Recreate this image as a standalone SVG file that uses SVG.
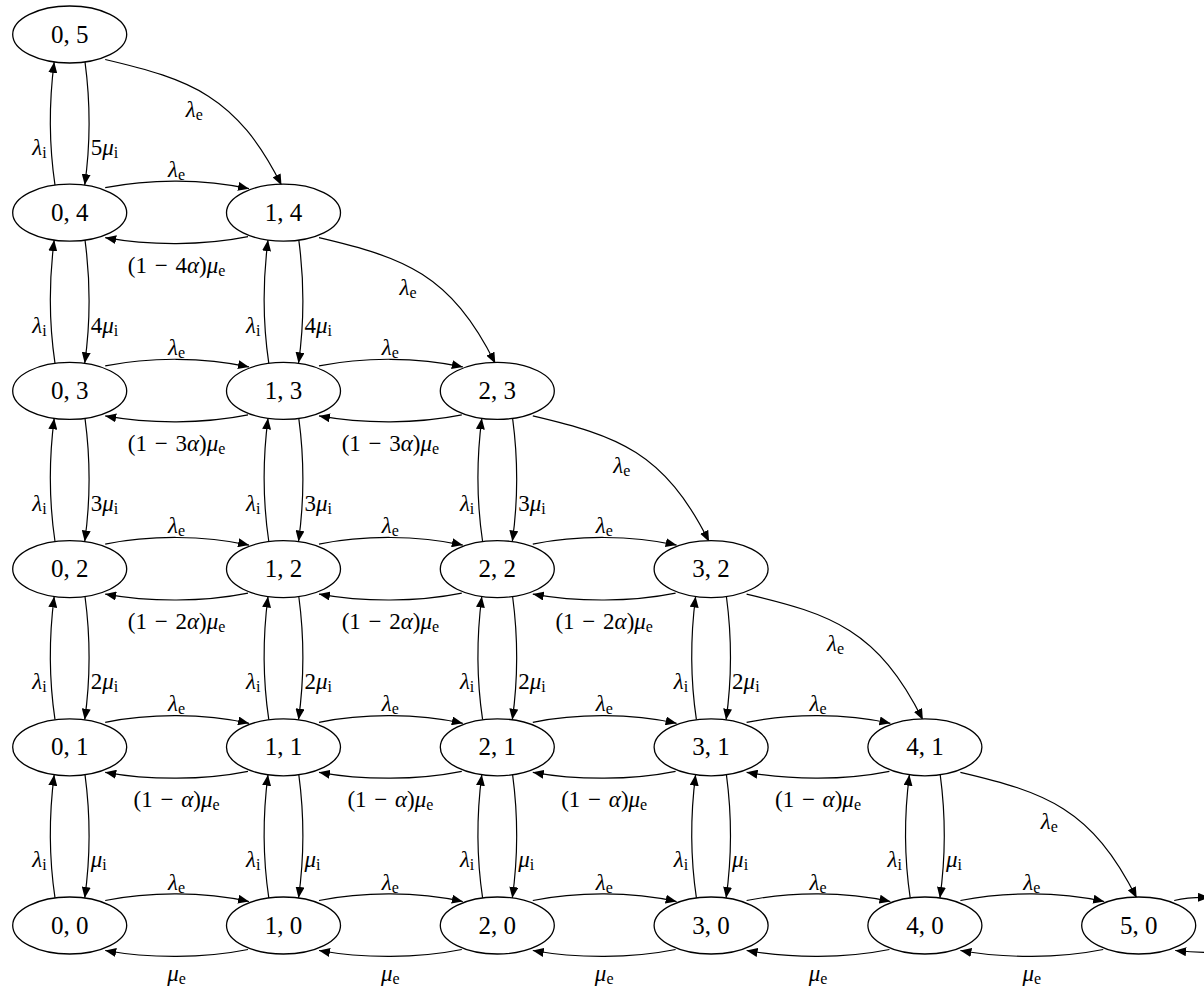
<svg xmlns="http://www.w3.org/2000/svg" width="1204" height="988" viewBox="0 0 1204 988">
<style>
.n ellipse{fill:#fff;stroke:#000;stroke-width:1.3}
.n text{font-family:"Liberation Serif",serif;font-size:25px;text-anchor:middle;fill:#000}
#edges path{fill:none;stroke:#000;stroke-width:1.2;marker-end:url(#ah)}
.l{font-family:"Liberation Serif",serif;font-size:23px;fill:#000;word-spacing:2px}
.m{text-anchor:middle}
.r{text-anchor:end}
.g{font-style:italic}
.s{font-size:16px}
</style>
<defs>
<marker id="ah" viewBox="0 0 11 9" refX="11" refY="4.5" markerWidth="11" markerHeight="9" markerUnits="userSpaceOnUse" orient="auto">
<path d="M0,0 L11,4.5 L0,9 z" fill="#000"/>
</marker>
</defs>
<rect width="1204" height="988" fill="#fff"/>
<g id="edges">
<!-- vertical column 0 -->
<path d="M55,897.9 C48.7,855.5 48.7,817.3 54.2,774.7"/>
<path d="M85,774.7 C90.7,817.3 90.7,855.5 84.7,897.9"/>
<path d="M55,719.7 C48.7,677.3 48.7,639.1 54.2,596.5"/>
<path d="M85,596.5 C90.7,639.1 90.7,677.3 84.7,719.7"/>
<path d="M55,541.5 C48.7,499.1 48.7,460.9 54.2,418.3"/>
<path d="M85,418.3 C90.7,460.9 90.7,499.1 84.7,541.5"/>
<path d="M55,363.3 C48.7,320.9 48.7,282.7 54.2,240.1"/>
<path d="M85,240.1 C90.7,282.7 90.7,320.9 84.7,363.3"/>
<path d="M55,185.1 C48.7,142.7 48.7,104.5 54.2,61.9"/>
<path d="M85,61.9 C90.7,104.5 90.7,142.7 84.7,185.1"/>
<!-- vertical column 1 -->
<path d="M268.8,897.9 C262.5,855.5 262.5,817.3 268,774.7"/>
<path d="M298.8,774.7 C304.5,817.3 304.5,855.5 298.5,897.9"/>
<path d="M268.8,719.7 C262.5,677.3 262.5,639.1 268,596.5"/>
<path d="M298.8,596.5 C304.5,639.1 304.5,677.3 298.5,719.7"/>
<path d="M268.8,541.5 C262.5,499.1 262.5,460.9 268,418.3"/>
<path d="M298.8,418.3 C304.5,460.9 304.5,499.1 298.5,541.5"/>
<path d="M268.8,363.3 C262.5,320.9 262.5,282.7 268,240.1"/>
<path d="M298.8,240.1 C304.5,282.7 304.5,320.9 298.5,363.3"/>
<!-- vertical column 2 -->
<path d="M482.6,897.9 C476.3,855.5 476.3,817.3 481.8,774.7"/>
<path d="M512.6,774.7 C518.3,817.3 518.3,855.5 512.3,897.9"/>
<path d="M482.6,719.7 C476.3,677.3 476.3,639.1 481.8,596.5"/>
<path d="M512.6,596.5 C518.3,639.1 518.3,677.3 512.3,719.7"/>
<path d="M482.6,541.5 C476.3,499.1 476.3,460.9 481.8,418.3"/>
<path d="M512.6,418.3 C518.3,460.9 518.3,499.1 512.3,541.5"/>
<!-- vertical column 3 -->
<path d="M696.4,897.9 C690.1,855.5 690.1,817.3 695.6,774.7"/>
<path d="M726.4,774.7 C732.1,817.3 732.1,855.5 726.1,897.9"/>
<path d="M696.4,719.7 C690.1,677.3 690.1,639.1 695.6,596.5"/>
<path d="M726.4,596.5 C732.1,639.1 732.1,677.3 726.1,719.7"/>
<!-- vertical column 4 -->
<path d="M910.2,897.9 C903.9,855.5 903.9,817.3 909.4,774.7"/>
<path d="M940.2,774.7 C945.9,817.3 945.9,855.5 939.9,897.9"/>
<!-- horizontal row 0 -->
<path d="M105.2,900.5 C149.7,891.5 203.5,891.5 249,901.5"/>
<path d="M248,949.5 C203.5,958.5 149.7,958.5 105.2,950.5"/>
<path d="M319,900.5 C363.5,891.5 417.3,891.5 462.8,901.5"/>
<path d="M461.8,949.5 C417.3,958.5 363.5,958.5 319,950.5"/>
<path d="M532.8,900.5 C577.3,891.5 631.1,891.5 676.6,901.5"/>
<path d="M675.6,949.5 C631.1,958.5 577.3,958.5 532.8,950.5"/>
<path d="M746.6,900.5 C791.1,891.5 844.9,891.5 890.4,901.5"/>
<path d="M889.4,949.5 C844.9,958.5 791.1,958.5 746.6,950.5"/>
<path d="M960.4,900.5 C1004.9,891.5 1058.7,891.5 1104.2,901.5"/>
<path d="M1103.2,949.5 C1058.7,958.5 1004.9,958.5 960.4,950.5"/>
<!-- row 1 -->
<path d="M105.2,722.3 C149.7,713.3 203.5,713.3 249,723.3"/>
<path d="M248,771.3 C203.5,780.3 149.7,780.3 105.2,772.3"/>
<path d="M319,722.3 C363.5,713.3 417.3,713.3 462.8,723.3"/>
<path d="M461.8,771.3 C417.3,780.3 363.5,780.3 319,772.3"/>
<path d="M532.8,722.3 C577.3,713.3 631.1,713.3 676.6,723.3"/>
<path d="M675.6,771.3 C631.1,780.3 577.3,780.3 532.8,772.3"/>
<path d="M746.6,722.3 C791.1,713.3 844.9,713.3 890.4,723.3"/>
<path d="M889.4,771.3 C844.9,780.3 791.1,780.3 746.6,772.3"/>
<!-- row 2 -->
<path d="M105.2,544.1 C149.7,535.1 203.5,535.1 249,545.1"/>
<path d="M248,593.1 C203.5,602.1 149.7,602.1 105.2,594.1"/>
<path d="M319,544.1 C363.5,535.1 417.3,535.1 462.8,545.1"/>
<path d="M461.8,593.1 C417.3,602.1 363.5,602.1 319,594.1"/>
<path d="M532.8,544.1 C577.3,535.1 631.1,535.1 676.6,545.1"/>
<path d="M675.6,593.1 C631.1,602.1 577.3,602.1 532.8,594.1"/>
<!-- row 3 -->
<path d="M105.2,365.9 C149.7,356.9 203.5,356.9 249,366.9"/>
<path d="M248,414.9 C203.5,423.9 149.7,423.9 105.2,415.9"/>
<path d="M319,365.9 C363.5,356.9 417.3,356.9 462.8,366.9"/>
<path d="M461.8,414.9 C417.3,423.9 363.5,423.9 319,415.9"/>
<!-- row 4 -->
<path d="M105.2,187.7 C149.7,178.7 203.5,178.7 249,188.7"/>
<path d="M248,236.7 C203.5,245.7 149.7,245.7 105.2,237.7"/>
<!-- diagonals -->
<path d="M105.2,59.5 C190.2,79.5 236.5,95.3 281.5,185.3"/>
<path d="M319,237.7 C404,257.7 450.3,273.5 495.3,363.5"/>
<path d="M532.8,415.9 C617.8,435.9 664.1,451.7 709.1,541.7"/>
<path d="M746.6,594.1 C831.6,614.1 877.9,629.9 922.9,719.9"/>
<path d="M960.4,772.3 C1045.4,792.3 1091.7,808.1 1136.7,898.1"/>
<!-- edges leaving the picture at 5,0 -->
<path d="M1174.2,900.5 C1186,897.8 1197,897.3 1209,897.5"/>
<path d="M1215,952 C1200,953 1190,952.2 1175.2,950.5"/>
</g>
<g id="labels">
<!-- vertical labels -->
<text class="l r" x="46.7" y="867.4"><tspan class="g">λ</tspan><tspan class="s" dy="3">i</tspan></text>
<text class="l" x="90.7" y="867.4"><tspan class="g">μ</tspan><tspan class="s" dy="3">i</tspan></text>
<text class="l r" x="46.7" y="689.2"><tspan class="g">λ</tspan><tspan class="s" dy="3">i</tspan></text>
<text class="l" x="90.7" y="689.2">2<tspan class="g">μ</tspan><tspan class="s" dy="3">i</tspan></text>
<text class="l r" x="46.7" y="511"><tspan class="g">λ</tspan><tspan class="s" dy="3">i</tspan></text>
<text class="l" x="90.7" y="511">3<tspan class="g">μ</tspan><tspan class="s" dy="3">i</tspan></text>
<text class="l r" x="46.7" y="332.8"><tspan class="g">λ</tspan><tspan class="s" dy="3">i</tspan></text>
<text class="l" x="90.7" y="332.8">4<tspan class="g">μ</tspan><tspan class="s" dy="3">i</tspan></text>
<text class="l r" x="46.7" y="154.6"><tspan class="g">λ</tspan><tspan class="s" dy="3">i</tspan></text>
<text class="l" x="90.7" y="154.6">5<tspan class="g">μ</tspan><tspan class="s" dy="3">i</tspan></text>

<text class="l r" x="260.5" y="867.4"><tspan class="g">λ</tspan><tspan class="s" dy="3">i</tspan></text>
<text class="l" x="304.5" y="867.4"><tspan class="g">μ</tspan><tspan class="s" dy="3">i</tspan></text>
<text class="l r" x="260.5" y="689.2"><tspan class="g">λ</tspan><tspan class="s" dy="3">i</tspan></text>
<text class="l" x="304.5" y="689.2">2<tspan class="g">μ</tspan><tspan class="s" dy="3">i</tspan></text>
<text class="l r" x="260.5" y="511"><tspan class="g">λ</tspan><tspan class="s" dy="3">i</tspan></text>
<text class="l" x="304.5" y="511">3<tspan class="g">μ</tspan><tspan class="s" dy="3">i</tspan></text>
<text class="l r" x="260.5" y="332.8"><tspan class="g">λ</tspan><tspan class="s" dy="3">i</tspan></text>
<text class="l" x="304.5" y="332.8">4<tspan class="g">μ</tspan><tspan class="s" dy="3">i</tspan></text>

<text class="l r" x="474.3" y="867.4"><tspan class="g">λ</tspan><tspan class="s" dy="3">i</tspan></text>
<text class="l" x="518.3" y="867.4"><tspan class="g">μ</tspan><tspan class="s" dy="3">i</tspan></text>
<text class="l r" x="474.3" y="689.2"><tspan class="g">λ</tspan><tspan class="s" dy="3">i</tspan></text>
<text class="l" x="518.3" y="689.2">2<tspan class="g">μ</tspan><tspan class="s" dy="3">i</tspan></text>
<text class="l r" x="474.3" y="511"><tspan class="g">λ</tspan><tspan class="s" dy="3">i</tspan></text>
<text class="l" x="518.3" y="511">3<tspan class="g">μ</tspan><tspan class="s" dy="3">i</tspan></text>

<text class="l r" x="688.1" y="867.4"><tspan class="g">λ</tspan><tspan class="s" dy="3">i</tspan></text>
<text class="l" x="732.1" y="867.4"><tspan class="g">μ</tspan><tspan class="s" dy="3">i</tspan></text>
<text class="l r" x="688.1" y="689.2"><tspan class="g">λ</tspan><tspan class="s" dy="3">i</tspan></text>
<text class="l" x="732.1" y="689.2">2<tspan class="g">μ</tspan><tspan class="s" dy="3">i</tspan></text>

<text class="l r" x="901.9" y="867.4"><tspan class="g">λ</tspan><tspan class="s" dy="3">i</tspan></text>
<text class="l" x="945.9" y="867.4"><tspan class="g">μ</tspan><tspan class="s" dy="3">i</tspan></text>

<!-- horizontal labels row 0 -->
<text class="l m" x="176.6" y="889.5"><tspan class="g">λ</tspan><tspan class="s" dy="3">e</tspan></text>
<text class="l m" x="176.6" y="980.5"><tspan class="g">μ</tspan><tspan class="s" dy="3">e</tspan></text>
<text class="l m" x="390.4" y="889.5"><tspan class="g">λ</tspan><tspan class="s" dy="3">e</tspan></text>
<text class="l m" x="390.4" y="980.5"><tspan class="g">μ</tspan><tspan class="s" dy="3">e</tspan></text>
<text class="l m" x="604.2" y="889.5"><tspan class="g">λ</tspan><tspan class="s" dy="3">e</tspan></text>
<text class="l m" x="604.2" y="980.5"><tspan class="g">μ</tspan><tspan class="s" dy="3">e</tspan></text>
<text class="l m" x="818" y="889.5"><tspan class="g">λ</tspan><tspan class="s" dy="3">e</tspan></text>
<text class="l m" x="818" y="980.5"><tspan class="g">μ</tspan><tspan class="s" dy="3">e</tspan></text>
<text class="l m" x="1031.8" y="889.5"><tspan class="g">λ</tspan><tspan class="s" dy="3">e</tspan></text>
<text class="l m" x="1031.8" y="980.5"><tspan class="g">μ</tspan><tspan class="s" dy="3">e</tspan></text>
<!-- row 1 -->
<text class="l m" x="176.6" y="711.3"><tspan class="g">λ</tspan><tspan class="s" dy="3">e</tspan></text>
<text class="l m" x="176.6" y="807.3">(1 − <tspan class="g">α</tspan>)<tspan class="g">μ</tspan><tspan class="s" dy="3">e</tspan></text>
<text class="l m" x="390.4" y="711.3"><tspan class="g">λ</tspan><tspan class="s" dy="3">e</tspan></text>
<text class="l m" x="390.4" y="807.3">(1 − <tspan class="g">α</tspan>)<tspan class="g">μ</tspan><tspan class="s" dy="3">e</tspan></text>
<text class="l m" x="604.2" y="711.3"><tspan class="g">λ</tspan><tspan class="s" dy="3">e</tspan></text>
<text class="l m" x="604.2" y="807.3">(1 − <tspan class="g">α</tspan>)<tspan class="g">μ</tspan><tspan class="s" dy="3">e</tspan></text>
<text class="l m" x="818" y="711.3"><tspan class="g">λ</tspan><tspan class="s" dy="3">e</tspan></text>
<text class="l m" x="818" y="807.3">(1 − <tspan class="g">α</tspan>)<tspan class="g">μ</tspan><tspan class="s" dy="3">e</tspan></text>
<!-- row 2 -->
<text class="l m" x="176.6" y="533.1"><tspan class="g">λ</tspan><tspan class="s" dy="3">e</tspan></text>
<text class="l m" x="176.6" y="629.1">(1 − 2<tspan class="g">α</tspan>)<tspan class="g">μ</tspan><tspan class="s" dy="3">e</tspan></text>
<text class="l m" x="390.4" y="533.1"><tspan class="g">λ</tspan><tspan class="s" dy="3">e</tspan></text>
<text class="l m" x="390.4" y="629.1">(1 − 2<tspan class="g">α</tspan>)<tspan class="g">μ</tspan><tspan class="s" dy="3">e</tspan></text>
<text class="l m" x="604.2" y="533.1"><tspan class="g">λ</tspan><tspan class="s" dy="3">e</tspan></text>
<text class="l m" x="604.2" y="629.1">(1 − 2<tspan class="g">α</tspan>)<tspan class="g">μ</tspan><tspan class="s" dy="3">e</tspan></text>
<!-- row 3 -->
<text class="l m" x="176.6" y="354.9"><tspan class="g">λ</tspan><tspan class="s" dy="3">e</tspan></text>
<text class="l m" x="176.6" y="450.9">(1 − 3<tspan class="g">α</tspan>)<tspan class="g">μ</tspan><tspan class="s" dy="3">e</tspan></text>
<text class="l m" x="390.4" y="354.9"><tspan class="g">λ</tspan><tspan class="s" dy="3">e</tspan></text>
<text class="l m" x="390.4" y="450.9">(1 − 3<tspan class="g">α</tspan>)<tspan class="g">μ</tspan><tspan class="s" dy="3">e</tspan></text>
<!-- row 4 -->
<text class="l m" x="176.6" y="176.7"><tspan class="g">λ</tspan><tspan class="s" dy="3">e</tspan></text>
<text class="l m" x="176.6" y="272.7">(1 − 4<tspan class="g">α</tspan>)<tspan class="g">μ</tspan><tspan class="s" dy="3">e</tspan></text>
<!-- diagonal labels -->
<text class="l m" x="194.2" y="116.5"><tspan class="g">λ</tspan><tspan class="s" dy="3">e</tspan></text>
<text class="l m" x="408" y="294.7"><tspan class="g">λ</tspan><tspan class="s" dy="3">e</tspan></text>
<text class="l m" x="621.8" y="472.9"><tspan class="g">λ</tspan><tspan class="s" dy="3">e</tspan></text>
<text class="l m" x="835.6" y="651.1"><tspan class="g">λ</tspan><tspan class="s" dy="3">e</tspan></text>
<text class="l m" x="1049.4" y="829.3"><tspan class="g">λ</tspan><tspan class="s" dy="3">e</tspan></text>
</g>
<g id="n05" class="n"><ellipse cx="69.7" cy="34.5" rx="57" ry="28.5"/><text x="69.7" y="42.5">0, 5</text></g>
<g id="n04" class="n"><ellipse cx="69.7" cy="212.7" rx="57" ry="28.5"/><text x="69.7" y="220.7">0, 4</text></g>
<g id="n03" class="n"><ellipse cx="69.7" cy="390.9" rx="57" ry="28.5"/><text x="69.7" y="398.9">0, 3</text></g>
<g id="n02" class="n"><ellipse cx="69.7" cy="569.1" rx="57" ry="28.5"/><text x="69.7" y="577.1">0, 2</text></g>
<g id="n01" class="n"><ellipse cx="69.7" cy="747.3" rx="57" ry="28.5"/><text x="69.7" y="755.3">0, 1</text></g>
<g id="n00" class="n"><ellipse cx="69.7" cy="925.5" rx="57" ry="28.5"/><text x="69.7" y="933.5">0, 0</text></g>
<g id="n14" class="n"><ellipse cx="283.5" cy="212.7" rx="57" ry="28.5"/><text x="283.5" y="220.7">1, 4</text></g>
<g id="n13" class="n"><ellipse cx="283.5" cy="390.9" rx="57" ry="28.5"/><text x="283.5" y="398.9">1, 3</text></g>
<g id="n12" class="n"><ellipse cx="283.5" cy="569.1" rx="57" ry="28.5"/><text x="283.5" y="577.1">1, 2</text></g>
<g id="n11" class="n"><ellipse cx="283.5" cy="747.3" rx="57" ry="28.5"/><text x="283.5" y="755.3">1, 1</text></g>
<g id="n10" class="n"><ellipse cx="283.5" cy="925.5" rx="57" ry="28.5"/><text x="283.5" y="933.5">1, 0</text></g>
<g id="n23" class="n"><ellipse cx="497.3" cy="390.9" rx="57" ry="28.5"/><text x="497.3" y="398.9">2, 3</text></g>
<g id="n22" class="n"><ellipse cx="497.3" cy="569.1" rx="57" ry="28.5"/><text x="497.3" y="577.1">2, 2</text></g>
<g id="n21" class="n"><ellipse cx="497.3" cy="747.3" rx="57" ry="28.5"/><text x="497.3" y="755.3">2, 1</text></g>
<g id="n20" class="n"><ellipse cx="497.3" cy="925.5" rx="57" ry="28.5"/><text x="497.3" y="933.5">2, 0</text></g>
<g id="n32" class="n"><ellipse cx="711.1" cy="569.1" rx="57" ry="28.5"/><text x="711.1" y="577.1">3, 2</text></g>
<g id="n31" class="n"><ellipse cx="711.1" cy="747.3" rx="57" ry="28.5"/><text x="711.1" y="755.3">3, 1</text></g>
<g id="n30" class="n"><ellipse cx="711.1" cy="925.5" rx="57" ry="28.5"/><text x="711.1" y="933.5">3, 0</text></g>
<g id="n41" class="n"><ellipse cx="924.9" cy="747.3" rx="57" ry="28.5"/><text x="924.9" y="755.3">4, 1</text></g>
<g id="n40" class="n"><ellipse cx="924.9" cy="925.5" rx="57" ry="28.5"/><text x="924.9" y="933.5">4, 0</text></g>
<g id="n50" class="n"><ellipse cx="1138.7" cy="925.5" rx="57" ry="28.5"/><text x="1138.7" y="933.5">5, 0</text></g>
</svg>
